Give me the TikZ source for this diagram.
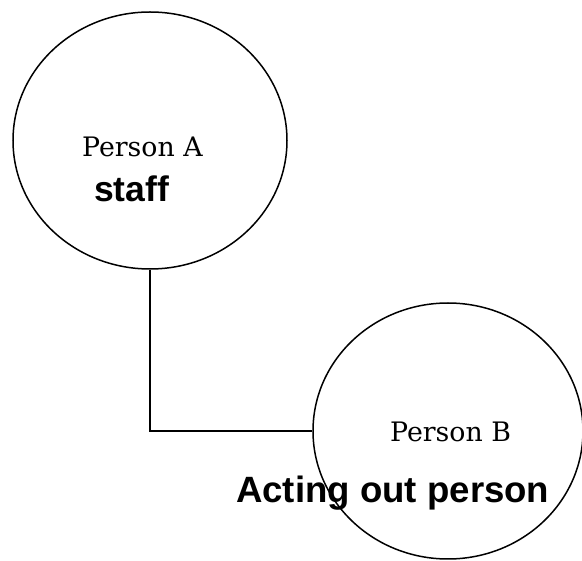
\documentclass[tikz,border=0pt]{standalone}
\usepackage{fontspec}
\setmainfont{Liberation Sans}
\newfontfamily\pfont{DejaVu Serif}
\usetikzlibrary{shapes.geometric}
\tikzset{
  person/.style={draw=black, line width=1.5pt, ellipse, inner sep=0pt},
  serifname/.style={anchor=base west, inner sep=0pt, font=\pfont\fontsize{26.8}{30}\selectfont},
  boldlabel/.style={anchor=base west, inner sep=0pt, font=\bfseries\fontsize{35.5}{40}\selectfont},
  link/.style={draw=black, line width=1.6pt}
}
\begin{document}
\begin{tikzpicture}[x=1pt, y=-1pt]
\useasboundingbox (0,0) rectangle (582,561);
\fill[white] (0,0) rectangle (582,561);
\node[person, minimum width=274pt, minimum height=257pt] (A) at (150,140.5) {};
\node[person, minimum width=270pt, minimum height=256pt] (B) at (448,431) {};
\draw[link] (A.south) |- (B.west);
\node[serifname] (ta) at (82,157) {Person A};
\node[boldlabel] (sa) at (94,202) {staff};
\node[serifname] (tb) at (390,442) {Person B};
\node[boldlabel, font=\bfseries\fontsize{36.6}{40}\selectfont] (sb) at (236,503) {Acting out person};
\end{tikzpicture}
\end{document}
